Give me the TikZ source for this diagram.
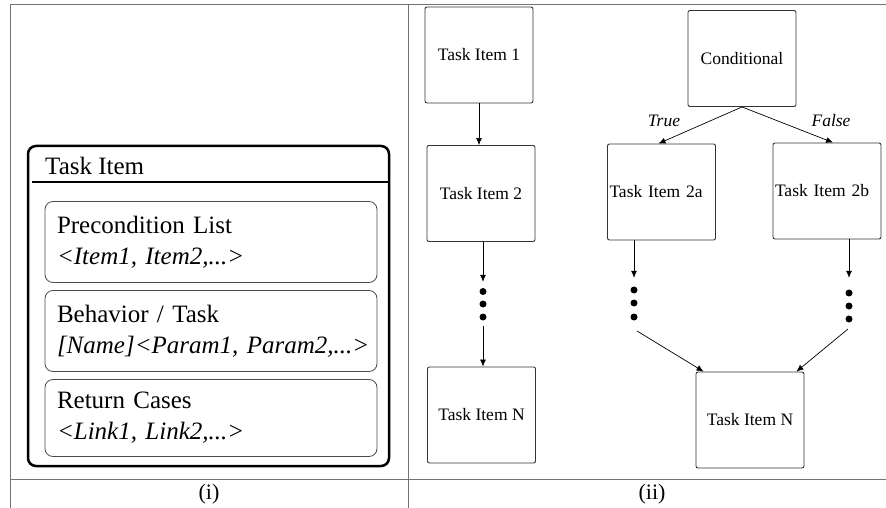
\documentclass[tikz,border=0pt]{standalone}
\usepackage{fontspec}
\setmainfont{Liberation Serif}
\usetikzlibrary{arrows.meta}

\begin{document}
\begin{tikzpicture}[x=1pt,y=-1pt]
	\tikzset{rule/.style={draw=black!55,line width=1pt},
		taskbox/.style={draw=black!80,line width=0.9pt,rounded corners=2pt,minimum width=108pt,minimum height=96pt,inner sep=1pt,font=\fontsize{17.5}{21}\selectfont},
		fieldbox/.style={draw=black!70,line width=0.8pt,rounded corners=8pt,minimum width=332pt,minimum height=81pt,text width=308pt,inner xsep=12pt,align=left,font=\fontsize{25}{31}\selectfont},
		dotnode/.style={circle,fill=black,inner sep=0pt,minimum size=7pt},
		link/.style={-{Latex[length=7pt,width=6pt]},line width=0.7pt},
		caselbl/.style={font=\fontsize{17.5}{21}\selectfont\itshape,inner sep=0pt}}
	\useasboundingbox (0,0) rectangle (886,508);
	%Table
	\draw[rule] (10,5) -- (886,5);
	\draw[rule] (10,479) -- (886,479);
	\draw[rule] (10,5) -- (10,508);
	\draw[rule] (408,5) -- (408,508);
	\node[font=\fontsize{22}{26}\selectfont] (capi) at (209,494) {(i)};
	\node[font=\fontsize{22}{26}\selectfont] (capii) at (652,494) {(ii)};
	%Task item (i)
	\node[draw,line width=2.5pt,rounded corners=8pt,minimum width=361pt,minimum height=320pt] (taskitem) at (208.5,306) {};
	\node[anchor=base west,inner sep=0pt,font=\fontsize{25}{31}\selectfont] (head) at (45,175) {Task Item};
	\draw[line width=2.5pt] ([xshift=5pt,yshift=-37pt]taskitem.north west) -- ([yshift=-37pt]taskitem.north east);
	\node[fieldbox] (precond) at (211,242) {Precondition List\\\textit{<Item1, Item2,...>}};
	\node[fieldbox] (behav) at (211,331) {Behavior / Task\\\mbox{\textit{[Name]<Param1, Param2,...>}}};
	\node[fieldbox,minimum height=77pt] (retcase) at (211,418) {Return Cases\\\textit{<Link1, Link2,...>}};
	%Sequence (ii)
	\node[taskbox] (ti1) at (479,55) {Task Item 1};
	\node[taskbox] (ti2) at (481,193.5) {Task Item 2};
	\node[taskbox] (tin) at (481.5,415) {Task Item N};
	\node[dotnode] (d1a) at (483,291.5) {};
	\node[dotnode] (d1b) at (483,304) {};
	\node[dotnode] (d1c) at (483,317) {};
	\draw[link] (ti1.south) -- (ti1.south |- ti2.north);
	\draw[link,shorten >=6pt] (ti2.south -| d1a) -- (d1a);
	\draw[link,shorten <=5.5pt] (d1c) -- (d1c |- tin.north);
	%Branch (ii)
	\node[taskbox] (cond) at (742,58.5) {Conditional};
	\node[taskbox,text width=104pt,align=left] (ti2a) at (661.5,192) {Task Item 2a};
	\node[taskbox,text width=104pt,align=left] (ti2b) at (827,191) {Task Item 2b};
	\node[taskbox] (tinr) at (750,420) {Task Item N};
	\node[caselbl] (true) at (664,121) {True};
	\node[caselbl] (false) at (831,121) {False};
	\draw[link] (cond.south) -- ([xshift=-3pt]ti2a.north);
	\draw[link] (cond.south) -- ([xshift=6pt]ti2b.north);
	\foreach \y [count=\i] in {290,303,317}
		\node[dotnode] (d2\i) at (634,\y) {};
	\foreach \y [count=\i] in {293,306,319}
		\node[dotnode] (d3\i) at (849,\y) {};
	\draw[link,shorten >=8.5pt] (ti2a.south -| d21) -- (d21);
	\draw[link,shorten >=11.5pt] (ti2b.south -| d31) -- (d31);
	\coordinate (ma) at (637,331);
	\coordinate (mb) at (848,329);
	\draw[link] (ma) -- ([xshift=8pt]tinr.north west);
	\draw[link] (mb) -- ([xshift=-8pt]tinr.north east);
\end{tikzpicture}
\end{document}
